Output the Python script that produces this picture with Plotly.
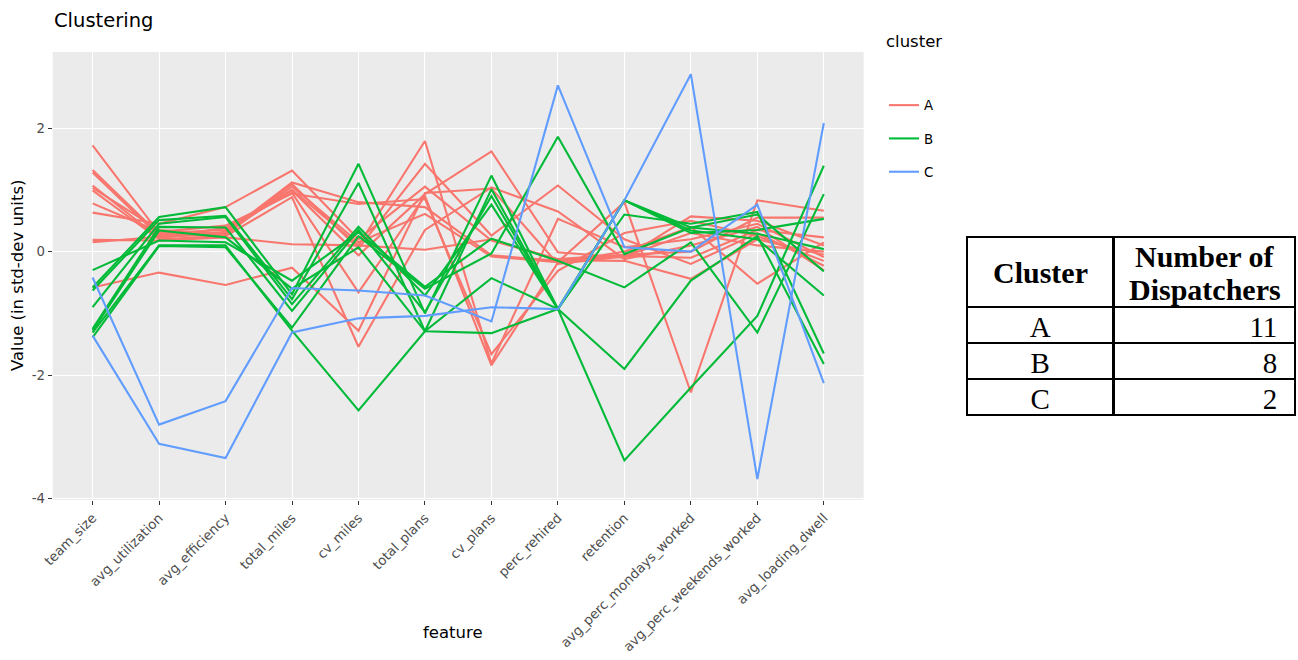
import plotly.graph_objects as go

W, H = 1298, 660

features = [
    "team_size", "avg_utilization", "avg_efficiency", "total_miles", "cv_miles",
    "total_plans", "cv_plans", "perc_rehired", "retention",
    "avg_perc_mondays_worked", "avg_perc_weekends_worked", "avg_loading_dwell",
]

# Standardised feature profiles of each dispatcher, grouped by cluster
cluster_a = [
    [1.72, 0.30, 0.35, 1.00, 0.10, 1.79, -1.81, 0.53, 0.07, 0.20, 0.45, -0.09],
    [1.32, 0.28, 0.30, 1.12, 0.80, 0.72, -0.06, -0.15, -0.07, -0.10, 0.35, 0.23],
    [1.28, 0.25, 0.27, 1.09, 0.05, 1.42, 0.26, 1.07, 0.20, -0.20, 0.30, -0.23],
    [1.07, 0.22, 0.32, 0.99, -0.06, 0.93, 1.62, -0.01, -0.10, 0.57, 0.50, 0.10],
    [1.03, 0.35, 0.28, 1.05, 0.15, 0.61, -0.08, -0.17, 0.80, -2.28, 0.83, 0.66],
    [0.99, 0.20, 0.25, 0.88, -1.54, 0.35, 1.04, 0.65, -0.12, 0.10, 0.40, -0.30],
    [0.78, 0.32, 0.42, 0.94, 0.77, 0.85, -1.66, -0.31, 0.30, 0.50, 0.25, -0.15],
    [0.63, 0.45, 0.72, 1.31, 0.20, 1.05, 0.18, -0.12, -0.05, 0.00, 0.55, 0.55],
    [0.19, 0.18, 0.23, 0.12, 0.10, 0.03, 0.20, -0.14, -0.15, -0.44, 0.20, -0.05],
    [0.15, 0.24, 0.38, 0.95, -0.66, 0.90, -1.84, -0.18, 0.00, 0.40, -0.52, 0.15],
    [-0.58, -0.34, -0.54, -0.26, -1.28, 0.95, 1.02, -0.20, -0.08, 0.30, 0.10, 0.00],
]
cluster_b = [
    [-0.30, 0.18, 0.15, -0.47, 0.31, -0.57, 0.21, -0.15, -0.58, 0.15, -1.31, 0.93],
    [-0.58, 0.56, 0.72, -0.69, 1.42, -1.00, 1.23, -0.93, 0.83, 0.39, 0.29, 0.04],
    [-0.63, 0.51, 0.58, -0.77, 1.11, -1.29, 1.01, -0.93, 0.83, 0.34, 0.20, -0.71],
    [-0.90, 0.45, 0.56, -0.85, 0.40, -0.71, 0.76, -0.93, 0.60, 0.45, 0.64, -1.65],
    [-1.25, 0.40, 0.39, -0.96, 0.35, -0.98, 0.90, -0.93, 0.83, 0.30, 0.35, 0.53],
    [-1.28, 0.34, 0.23, -0.60, 0.07, -1.29, -1.32, -0.93, -1.90, -0.47, 0.25, -1.82],
    [-1.31, 0.10, 0.10, -1.28, -2.57, -1.29, -0.43, -0.93, -3.38, -2.20, -1.04, 1.39],
    [-1.39, 0.09, 0.07, -1.23, 0.25, -0.60, -0.03, 1.86, -0.04, 0.39, 0.60, -0.32],
]
cluster_c = [
    [-0.42, -2.80, -2.42, -0.59, -0.63, -0.71, -1.13, 2.69, 0.07, 0.00, 0.76, -2.13],
    [-1.36, -3.11, -3.34, -1.31, -1.08, -1.04, -0.90, -0.93, 0.83, 2.87, -3.68, 2.08],
]

cluster_names = ["A", "B", "C"]
cluster_colors = ["#F8766D", "#00BA38", "#619CFF"]
cluster_members = [cluster_a, cluster_b, cluster_c]

# Summary table: dispatchers per cluster
table_clusters = ["A", "B", "C"]
table_counts = [11, 8, 2]

y_ticks = [-4, -2, 0, 2]

SANS = "DejaVu Sans, Verdana, sans-serif"
SERIF = "Liberation Serif, Times New Roman, serif"

fig = go.Figure()

for name, color, members in zip(cluster_names, cluster_colors, cluster_members):
    for i, values in enumerate(members):
        fig.add_trace(go.Scatter(
            x=features, y=values, mode="lines",
            line=dict(color=color, width=2.1),
            name=name, legendgroup=name, showlegend=(i == 0),
            hoverinfo="x+y+name",
        ))

# Table box geometry (pixels)
tb_left, tb_mid, tb_right = 967, 1114, 1296
tb_top, hdr_h, row_h = 237, 70, 36
tb_bottom = tb_top + hdr_h + row_h * len(table_counts) + 4

fig.add_trace(go.Table(
    domain=dict(x=[tb_left / W, tb_right / W], y=[(H - tb_bottom) / H, (H - tb_top) / H]),
    columnwidth=[tb_mid - tb_left, tb_right - tb_mid],
    header=dict(
        values=["", ""],
        height=hdr_h,
        line=dict(color="black", width=2.5),
        fill=dict(color="white"),
        font=dict(family=SERIF, size=29, color="black"),
    ),
    cells=dict(
        values=[table_clusters, table_counts],
        suffix=["", "\u2004"],
        align=["center", "right"],
        height=row_h,
        line=dict(color="black", width=2.5),
        fill=dict(color="white"),
        font=dict(family=SERIF, size=29, color="black"),
    ),
))

x0, x1 = 52.7 / W, 863.7 / W
y_bot, y_top = (H - 500) / H, (H - 52) / H


def px_x(px):
    return px / W


def px_y(py):
    return 1 - py / H


hdr_font = dict(family=SERIF, size=30, color="black")
annotations = [
    dict(text="cluster", x=px_x(884), xanchor="left", y=px_y(42), yanchor="middle",
         font=dict(family=SANS, size=16.5, color="black")),
    dict(text="<b>Cluster</b>", x=px_x((tb_left + tb_mid) / 2), xanchor="center",
         y=px_y(273), yanchor="middle", font=hdr_font),
    dict(text="<b>Number of</b>", x=px_x((tb_mid + tb_right) / 2), xanchor="center",
         y=px_y(256), yanchor="middle", font=hdr_font),
    dict(text="<b>Dispatchers</b>", x=px_x((tb_mid + tb_right) / 2), xanchor="center",
         y=px_y(289), yanchor="middle", font=hdr_font),
    dict(text="feature", x=px_x(453), xanchor="center", y=px_y(632), yanchor="middle",
         font=dict(family=SANS, size=16.5, color="black")),
    dict(text="Value (in std-dev units)", x=px_x(17), xanchor="center",
         y=px_y(276), yanchor="middle", textangle=-90,
         font=dict(family=SANS, size=16.5, color="black")),
]
for a in annotations:
    a.update(xref="paper", yref="paper", showarrow=False)

fig.update_layout(
    width=W, height=H,
    margin=dict(l=0, r=0, t=0, b=0),
    paper_bgcolor="white",
    plot_bgcolor="#EBEBEB",
    font=dict(family=SANS, color="black"),
    title=dict(
        text="Clustering", x=px_x(54), xanchor="left", xref="paper",
        y=px_y(20), yanchor="middle", yref="paper",
        font=dict(family=SANS, size=19.5, color="black"),
    ),
    xaxis=dict(
        domain=[x0, x1],
        type="category",
        range=[-0.6, 11.6],
        showgrid=True, gridcolor="white", gridwidth=1.3,
        zeroline=False,
        ticks="outside", ticklen=4, tickcolor="#333333", tickwidth=1.2,
        tickangle=-45,
        tickfont=dict(family=SANS, size=13.3, color="#4D4D4D"),
        automargin=False,
    ),
    yaxis=dict(
        domain=[y_bot, y_top],
        range=[-4.02, 3.23],
        tickvals=y_ticks,
        ticktext=[str(v) for v in y_ticks],
        showgrid=True, gridcolor="white", gridwidth=1.3,
        zeroline=False,
        ticks="outside", ticklen=4, tickcolor="#333333", tickwidth=1.2,
        tickfont=dict(family=SANS, size=13.3, color="#4D4D4D"),
        automargin=False,
    ),
    legend=dict(
        x=px_x(884), xanchor="left",
        y=px_y(90), yanchor="top",
        bgcolor="rgba(0,0,0,0)",
        font=dict(family=SANS, size=13.3, color="black"),
        tracegroupgap=13,
        itemwidth=30,
    ),
    annotations=annotations,
)

fig.write_html("out.html")
